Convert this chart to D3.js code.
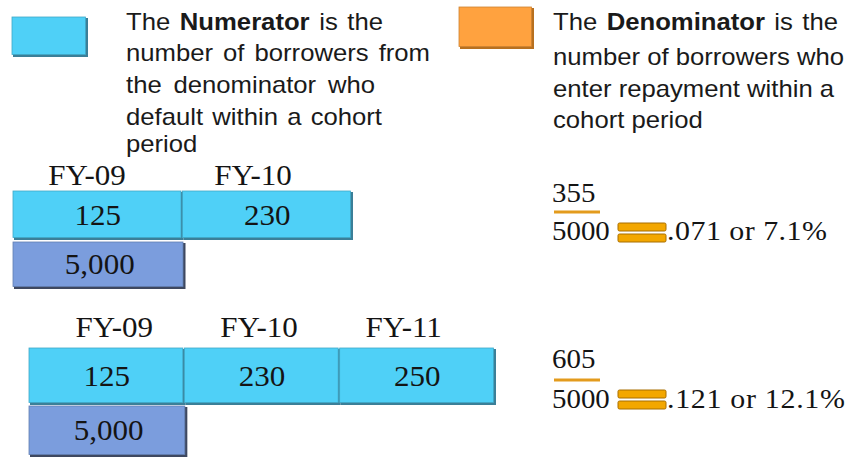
<!DOCTYPE html>
<html>
<head>
<meta charset="utf-8">
<script src="https://cdn.jsdelivr.net/npm/d3@7"></script>
<style>
  html, body { margin: 0; padding: 0; background: #fff; }
  .sans { font-family: "Liberation Sans", Arial, sans-serif; fill: #1a1a1a; }
  .serif { font-family: "Liberation Serif", "Times New Roman", serif; fill: #141414; }
</style>
</head>
<body>
<div id="chart"></div>
<script>
// ---- data ----
var numTitle = ["The ", "Numerator", " is the"];
var numLines = ["number of borrowers from", "the denominator who", "default within a cohort", "period"];
var denTitle = ["The ", "Denominator", " is the"];
var denLines = ["number of borrowers who", "enter repayment within a", "cohort period"];

var years1 = ["FY-09", "FY-10"];
var defaults1 = [125, 230];
var years2 = ["FY-09", "FY-10", "FY-11"];
var defaults2 = [125, 230, 250];
var entered = [5000, 5000];      // borrowers entering repayment (FY-09)
var totals = [355, 605];         // numerator shown in each fraction

// ---- layout ----
var W = 855, H = 457;
var SX = 1.07;                   // the slide text is a little stretched sideways
var cyan = "#4fd0f7", cyanEdge = "#3b7f98", slate = "#7b9ddd", slateEdge = "#3e4860";
var orange = "#ffa23f", orangeEdge = "#b8701f", eqFill = "#f3a700", eqEdge = "#a86e00";

var sections = [
  { years: years1, vals: defaults1, den: entered[0], tot: totals[0],
    x: [13, 352], labelX: [4, 336], head: 185, row1: [191, 239], row2: [242, 288],
    numY: 202, barY: 212, denY: 240, eqY: 223, rateW: 160 },
  { years: years2, vals: defaults2, den: entered[1], tot: totals[1],
    x: [29, 495], labelX: [42, 476], head: 337, row1: [348, 404], row2: [406, 456],
    numY: 368, barY: 380, denY: 408, eqY: 390, rateW: 178 }
];

var svg = d3.select("#chart").append("svg")
    .attr("width", W)
    .attr("height", H);

// bevel-ish box: fill plus darker right/bottom edge
function box(g, x, y, w, h, fill, edge) {
  g.append("rect").attr("x", x + 1).attr("y", y + 1).attr("width", w).attr("height", h)
    .attr("fill", edge);
  g.append("rect").attr("x", x).attr("y", y).attr("width", w - 1.5).attr("height", h - 1.5)
    .attr("fill", fill).attr("stroke", d3.color(fill).darker(0.6)).attr("stroke-width", 0.8);
}

function txt(g, x, y, cls, size) {
  return g.append("text").attr("class", cls)
    .attr("transform", "translate(" + x + "," + y + ") scale(" + SX + ",1)")
    .attr("font-size", size);
}

// stretch a line to a width by widening the gaps between words
function fit(t, width) {
  var gaps = (t.text().match(/ /g) || []).length;
  var natural = t.node().getComputedTextLength();
  var target = width / SX;
  if (gaps > 0 && target > natural) t.attr("word-spacing", (target - natural) / gaps);
}

// ---- legend ----
var leg = svg.append("g");
box(leg, 12, 17, 75, 39, cyan, cyanEdge);
box(leg, 459, 7, 74, 41, orange, orangeEdge);

function legendBlock(x, title, lines, ys, widths) {
  var t = txt(leg, x, ys[0], "sans", 24);
  t.selectAll("tspan").data(title).enter().append("tspan")
      .attr("font-weight", function (d, i) { return i == 1 ? "bold" : null; })
      .text(function (d) { return d; });
  fit(t, widths[0]);
  lines.forEach(function (s, i) {
    var l = txt(leg, x, ys[i + 1], "sans", 24).text(s);
    fit(l, widths[i + 1]);
  });
}
legendBlock(126, numTitle, numLines, [30, 61, 93, 125, 152], [257, 304, 249, 256, 69]);
legendBlock(553, denTitle, denLines, [30, 65, 97, 128], [285, 284, 277, 147]);

// ---- the two cohort sections ----
sections.forEach(function (s) {
  var g = svg.append("g");
  var x = d3.scaleBand().domain(s.years).range(s.x);
  var xl = d3.scaleBand().domain(s.years).range(s.labelX);

  s.years.forEach(function (d) {
    txt(g, xl(d) + xl.bandwidth() / 2, s.head, "serif", 29)
      .attr("text-anchor", "middle").text(d);
  });

  var h1 = s.row1[1] - s.row1[0];
  s.years.forEach(function (d) {
    box(g, x(d), s.row1[0], x.bandwidth(), h1, cyan, cyanEdge);
  });
  s.vals.forEach(function (v, i) {
    txt(g, x(s.years[i]) + x.bandwidth() / 2, s.row1[0] + h1 / 2 + 10, "serif", 29)
      .attr("text-anchor", "middle").text(v);
  });

  // denominator row under the first year
  var h2 = s.row2[1] - s.row2[0];
  box(g, x(s.years[0]), s.row2[0], x.bandwidth() + 2, h2, slate, slateEdge);
  txt(g, x(s.years[0]) + x.bandwidth() / 2 + 2, s.row2[0] + h2 / 2 + 9, "serif", 29)
    .attr("text-anchor", "middle").text(d3.format(",")(s.den));

  // fraction
  var rate = s.tot / s.den;
  var rateText = d3.format(".3f")(rate).replace(/^0/, "") + " or " + d3.format(".1%")(rate);
  txt(g, 552, s.numY, "serif", 27).text(s.tot);
  g.append("rect").attr("x", 554).attr("y", s.barY - 1.5).attr("width", 46).attr("height", 3)
    .attr("fill", "#e39b1d");
  txt(g, 552, s.denY, "serif", 27).text(s.den);
  [0, 11].forEach(function (dy) {
    g.append("rect").attr("x", 618).attr("y", s.eqY + dy).attr("width", 48).attr("height", 8)
      .attr("rx", 1.5).attr("fill", eqFill).attr("stroke", eqEdge).attr("stroke-width", 1);
  });
  txt(g, 667, s.denY, "serif", 28)
    .attr("textLength", s.rateW / SX).attr("lengthAdjust", "spacing")
    .text(rateText);
});
</script>
</body>
</html>
